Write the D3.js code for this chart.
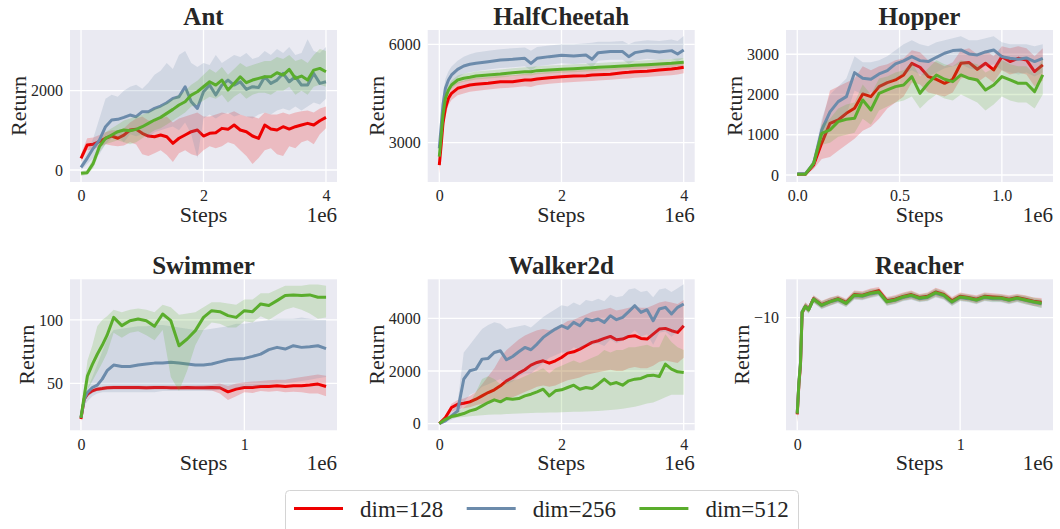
<!DOCTYPE html>
<html>
<head>
<meta charset="utf-8">
<script src="https://cdn.jsdelivr.net/npm/d3@7"></script>
<style>
  body { margin: 0; background: #ffffff; }
  svg { display: block; font-family: "Liberation Serif", "Times New Roman", serif; }
</style>
</head>
<body>
<div id="chart"></div>
<script>
// ---------- data (steps in units of 1e6) ----------
const seriesNames = ["dim=128", "dim=256", "dim=512"];
const seriesColors = ["#ee0000", "#6c8bab", "#5aad2c"];

// Ant
const antSteps = [0, 0.1, 0.2, 0.3, 0.4, 0.5, 0.6, 0.7, 0.8, 0.9, 1.0, 1.1, 1.2, 1.3, 1.4, 1.5, 1.6, 1.7, 1.8, 1.9, 2.0, 2.1, 2.2, 2.3, 2.4, 2.5, 2.6, 2.7, 2.8, 2.9, 3.0, 3.1, 3.2, 3.3, 3.4, 3.5, 3.6, 3.7, 3.8, 3.9, 4.0];
const antRed = [294, 630, 650, 714, 800, 857, 800, 880, 1008, 1025, 924, 857, 840, 882, 840, 672, 800, 882, 966, 1008, 857, 924, 940, 1050, 1025, 1134, 1008, 966, 857, 798, 1134, 1033, 1008, 1092, 1033, 1092, 1134, 1176, 1134, 1243, 1327];
const antRedLo = [200, 500, 520, 580, 650, 620, 600, 620, 700, 640, 400, 350, 420, 500, 380, 200, 420, 500, 400, 350, 500, 600, 550, 600, 700, 650, 500, 350, 150, 300, 500, 550, 400, 350, 600, 550, 700, 750, 650, 900, 1050];
const antRedHi = [400, 800, 820, 880, 950, 1000, 1000, 1050, 1200, 1300, 1350, 1250, 1250, 1300, 1350, 1200, 1300, 1350, 1400, 1450, 1350, 1350, 1400, 1450, 1420, 1480, 1400, 1350, 1350, 1300, 1450, 1400, 1400, 1450, 1400, 1450, 1480, 1500, 1450, 1550, 1600];
const antBlue = [67, 294, 546, 756, 1092, 1260, 1277, 1327, 1386, 1344, 1470, 1470, 1554, 1613, 1697, 1806, 1848, 2100, 1722, 1554, 1974, 2142, 1890, 2142, 2268, 2142, 2226, 2033, 2100, 2083, 2352, 2184, 2268, 2436, 2226, 2352, 2142, 2142, 2436, 2184, 2226];
const antBlueLo = [0, 150, 300, 400, 650, 800, 850, 700, 900, 850, 900, 800, 950, 1000, 1050, 1100, 1000, 1200, 900, 300, 1300, 1400, 1300, 1400, 1450, 1350, 1400, 1350, 1300, 1400, 1450, 1400, 1500, 1550, 1500, 1600, 1500, 1600, 1700, 1650, 1800];
const antBlueHi = [150, 450, 800, 1300, 1800, 1900, 1850, 2000, 2100, 2150, 2050, 2200, 2400, 2500, 2700, 2550, 2900, 3000, 2700, 2600, 2700, 2650, 2900, 2700, 2800, 2900, 2850, 2950, 2800, 2850, 3000, 2900, 3050, 2950, 3100, 2900, 2950, 3300, 3000, 2950, 3100];
const antGreen = [-84, -67, 168, 588, 798, 882, 966, 1008, 991, 1025, 1092, 1176, 1260, 1327, 1428, 1529, 1638, 1722, 1890, 1974, 2100, 2226, 2142, 2268, 2016, 2184, 2352, 2201, 2268, 2310, 2352, 2352, 2453, 2394, 2537, 2310, 2369, 2268, 2520, 2562, 2478];
const antGreenLo = [-150, -120, 50, 450, 650, 700, 750, 700, 650, 700, 800, 900, 1000, 1050, 1150, 1250, 1350, 1450, 1600, 1650, 1750, 1850, 1800, 1900, 1700, 1850, 1950, 1800, 1900, 1950, 1950, 1900, 2000, 2000, 2100, 1900, 2000, 1900, 2100, 2150, 2100];
const antGreenHi = [-30, 0, 300, 700, 950, 1050, 1150, 1250, 1300, 1350, 1400, 1450, 1550, 1600, 1700, 1800, 1900, 2000, 2150, 2250, 2400, 2550, 2450, 2600, 2400, 2550, 2700, 2600, 2650, 2700, 2750, 2750, 2850, 2800, 2900, 2750, 2800, 2700, 2900, 3050, 3000];

// HalfCheetah
const hcSteps = [0, 0.03, 0.06, 0.1, 0.15, 0.2, 0.3, 0.4, 0.5, 0.6, 0.8, 1.0, 1.2, 1.4, 1.5, 1.6, 1.8, 2.0, 2.2, 2.4, 2.5, 2.6, 2.8, 3.0, 3.1, 3.2, 3.4, 3.6, 3.8, 3.9, 4.0];
const hcRed = [2319, 2929, 3590, 4048, 4353, 4505, 4658, 4709, 4759, 4780, 4810, 4861, 4861, 4912, 4912, 4942, 4983, 5014, 5034, 5044, 5065, 5075, 5085, 5136, 5146, 5166, 5176, 5217, 5248, 5268, 5298];
const hcRedLo = [2050, 2650, 3300, 3800, 4150, 4300, 4450, 4500, 4550, 4580, 4620, 4660, 4680, 4720, 4700, 4750, 4800, 4830, 4850, 4870, 4880, 4900, 4920, 4950, 4960, 4980, 5000, 5030, 5060, 5080, 5120];
const hcRedHi = [2550, 3200, 3850, 4280, 4550, 4700, 4850, 4900, 4950, 4980, 5000, 5050, 5060, 5100, 5110, 5130, 5160, 5190, 5210, 5220, 5240, 5250, 5260, 5300, 5310, 5330, 5340, 5380, 5400, 5430, 5450];
const hcBlue = [2827, 3488, 4149, 4658, 4912, 5065, 5237, 5339, 5390, 5420, 5471, 5522, 5543, 5573, 5420, 5573, 5624, 5665, 5644, 5675, 5543, 5746, 5777, 5777, 5624, 5746, 5807, 5767, 5807, 5705, 5828];
const hcBlueLo = [2600, 3200, 3850, 4400, 4650, 4800, 4980, 5100, 5150, 5180, 5230, 5280, 5300, 5330, 5200, 5330, 5380, 5420, 5400, 5430, 5300, 5500, 5530, 5530, 5400, 5500, 5560, 5520, 5560, 5480, 5580];
const hcBlueHi = [3000, 3750, 4450, 4950, 5180, 5320, 5500, 5620, 5700, 5750, 5800, 5850, 5880, 5900, 5800, 5920, 5960, 6000, 6000, 6030, 6050, 6080, 6080, 6100, 6000, 6080, 6120, 6100, 6150, 6100, 6250];
const hcGreen = [2573, 3183, 3844, 4353, 4607, 4759, 4912, 4963, 4993, 5034, 5065, 5095, 5136, 5166, 5166, 5197, 5217, 5237, 5258, 5278, 5288, 5298, 5319, 5339, 5349, 5359, 5380, 5400, 5420, 5441, 5451];
const hcGreenLo = [2450, 3050, 3700, 4230, 4490, 4650, 4800, 4860, 4890, 4930, 4960, 4990, 5030, 5060, 5050, 5090, 5110, 5130, 5150, 5170, 5180, 5190, 5210, 5230, 5240, 5250, 5270, 5290, 5310, 5330, 5340];
const hcGreenHi = [2700, 3330, 4000, 4500, 4750, 4900, 5050, 5100, 5130, 5170, 5200, 5230, 5270, 5300, 5310, 5330, 5350, 5370, 5390, 5410, 5420, 5430, 5450, 5470, 5480, 5490, 5510, 5530, 5550, 5570, 5580];

// Hopper
const hopSteps = [0, 0.04, 0.08, 0.12, 0.16, 0.2, 0.24, 0.28, 0.32, 0.36, 0.4, 0.44, 0.48, 0.52, 0.56, 0.6, 0.64, 0.68, 0.72, 0.76, 0.8, 0.84, 0.88, 0.92, 0.96, 1.0, 1.04, 1.08, 1.12, 1.16, 1.2];
const hopRed = [20, 20, 250, 800, 1285, 1367, 1533, 1657, 2014, 1947, 2196, 2295, 2362, 2486, 2776, 2677, 2445, 2378, 2279, 2378, 2776, 2793, 2627, 2776, 2610, 2942, 2818, 2900, 2859, 2569, 2735];
const hopRedLo = [0, 0, 150, 400, 450, 600, 750, 900, 1100, 1200, 1400, 1650, 1800, 1950, 2300, 2250, 2050, 2000, 1950, 2050, 2400, 2450, 2300, 2450, 2300, 2600, 2500, 2550, 2500, 2200, 2350];
const hopRedHi = [40, 40, 350, 1300, 2100, 2200, 2300, 2400, 2700, 2600, 2700, 2750, 2850, 2900, 3100, 3050, 2850, 2800, 2700, 2800, 3100, 3150, 3000, 3100, 2950, 3200, 3150, 3200, 3150, 2950, 3150];
const hopBlue = [30, 30, 290, 1119, 1570, 1823, 1947, 2544, 2403, 2378, 2511, 2594, 2760, 2834, 2942, 2842, 2818, 2925, 3025, 3091, 3108, 3008, 2983, 3058, 3108, 2942, 2900, 2876, 2909, 2818, 2900];
const hopBlueLo = [0, 0, 200, 800, 1100, 1300, 1500, 2100, 2000, 2050, 2150, 2250, 2400, 2500, 2600, 2500, 2450, 2550, 2650, 2700, 2750, 2650, 2600, 2700, 2750, 2600, 2550, 2500, 2550, 2450, 2550];
const hopBlueHi = [60, 60, 400, 1400, 2000, 2200, 2400, 2950, 2800, 2800, 2850, 2950, 3100, 3250, 3350, 3250, 3200, 3300, 3350, 3400, 3450, 3350, 3350, 3400, 3450, 3300, 3250, 3250, 3250, 3200, 3250];
const hopGreen = [20, 20, 290, 1036, 1119, 1326, 1384, 1409, 1865, 1616, 2030, 2113, 2196, 2237, 2445, 2030, 2279, 2486, 2378, 2320, 2486, 2403, 2362, 2113, 2237, 2445, 2362, 2279, 2279, 2072, 2486];
const hopGreenLo = [0, 0, 200, 750, 800, 950, 1000, 1050, 1400, 1250, 1600, 1700, 1800, 1850, 1950, 1650, 1850, 2000, 1900, 1850, 2000, 1900, 1800, 1600, 1750, 1950, 1850, 1800, 1800, 1650, 2000];
const hopGreenHi = [40, 40, 380, 1250, 1400, 1650, 1750, 1800, 2250, 2000, 2400, 2450, 2550, 2600, 2800, 2450, 2650, 2850, 2750, 2700, 2850, 2800, 2750, 2550, 2650, 2850, 2750, 2700, 2700, 2500, 2900];

// Swimmer
const swSteps = [0, 0.02, 0.04, 0.07, 0.1, 0.13, 0.16, 0.2, 0.25, 0.3, 0.35, 0.4, 0.45, 0.5, 0.55, 0.6, 0.65, 0.7, 0.75, 0.8, 0.85, 0.9, 0.95, 1.0, 1.05, 1.1, 1.15, 1.2, 1.25, 1.3, 1.35, 1.4, 1.45, 1.5];
const swRed = [22, 37.6, 41.6, 44.2, 45.5, 46, 46.6, 46.8, 46.8, 46.9, 46.8, 46.6, 46.8, 46.9, 46.7, 46.6, 46.8, 46.7, 46.6, 46.8, 46.6, 43.4, 45.5, 46.8, 46.8, 47.6, 47.6, 48.2, 47.6, 48.2, 48.2, 48.7, 49.5, 47.6];
const swRedLo = [20, 35, 39.5, 42.5, 44, 44.5, 45, 45.2, 45.3, 45.3, 45.2, 45, 45.2, 45.3, 45.1, 45, 45.2, 45, 44.8, 44.5, 42, 37, 40, 43, 42.5, 44, 43.5, 44, 43, 43.5, 43, 42, 42, 40];
const swRedHi = [24, 40, 43.5, 46, 47, 47.5, 48, 48.3, 48.3, 48.4, 48.3, 48.2, 48.3, 48.4, 48.3, 48.2, 48.4, 48.4, 48.5, 49, 50, 48, 50, 51, 51.5, 52, 52.5, 53, 53, 54, 55, 56, 57, 56];
const swBlue = [23, 37.6, 42.9, 46.8, 48.7, 53.4, 60, 64.5, 63.4, 63.4, 64.5, 65.3, 66, 66, 66.6, 66, 65.3, 64.5, 64.5, 65.3, 67, 68.7, 69.2, 69.7, 71.3, 73.1, 76.6, 78.4, 77.1, 79.7, 78.4, 78.9, 79.7, 77.4];
const swBlueLo = [21, 32, 36, 40, 42, 43, 43, 43, 43, 43, 43, 43, 43, 44, 44, 44, 44, 44, 44, 44, 45, 45, 46, 47, 47, 48, 49, 50, 50, 51, 52, 53, 54, 55];
const swBlueHi = [25, 40, 46, 55, 65, 75, 85, 92, 93, 94, 95, 95, 96, 96, 95, 94, 93, 92, 92, 93, 94, 95, 97, 97, 98, 99, 100, 101, 101, 101, 102, 101, 100, 100];
const swGreen = [23, 40, 56, 65, 73, 80, 88, 102, 95.5, 99.4, 100.7, 99.4, 95, 104.7, 99.4, 79.7, 85, 91.6, 102, 107.3, 106.5, 103.4, 102, 107.3, 106.5, 112.6, 111.3, 115.2, 119.2, 119.7, 119.2, 119.7, 117.9, 117.9];
const swGreenLo = [21, 33, 45, 52, 59, 66, 74, 90, 86, 90, 91, 88, 84, 92, 55, 44, 60, 80, 92, 98, 97, 94, 94, 99, 98, 103, 100, 104, 108, 110, 108, 105, 101, 102];
const swGreenHi = [25, 48, 68, 80, 95, 100, 103, 108, 106, 108, 109, 108, 106, 112, 110, 104, 105, 106, 110, 114, 114, 113, 112, 116, 116, 121, 121, 124, 127, 127, 127, 128, 128, 127];

// Walker2d
const wkSteps = [0, 0.1, 0.2, 0.3, 0.4, 0.5, 0.6, 0.7, 0.8, 0.9, 1.0, 1.1, 1.2, 1.3, 1.4, 1.5, 1.6, 1.7, 1.8, 1.9, 2.0, 2.1, 2.2, 2.3, 2.4, 2.5, 2.6, 2.7, 2.8, 2.9, 3.0, 3.1, 3.2, 3.3, 3.4, 3.5, 3.6, 3.7, 3.8, 3.9, 4.0];
const wkRed = [0, 229, 610, 737, 775, 826, 927, 1054, 1181, 1283, 1435, 1626, 1753, 1918, 2045, 2223, 2324, 2388, 2299, 2388, 2515, 2680, 2731, 2832, 2959, 3086, 3150, 3239, 3315, 3188, 3213, 3315, 3340, 3239, 3213, 3404, 3594, 3620, 3531, 3467, 3721];
const wkRedLo = [0, 150, 450, 550, 580, 620, 700, 750, 800, 850, 900, 950, 1000, 1100, 1200, 1300, 1400, 1450, 1400, 1450, 1550, 1650, 1700, 1750, 1850, 1900, 1950, 2000, 2050, 2000, 2000, 2100, 2150, 2100, 2100, 2200, 2350, 2400, 2350, 2300, 2500];
const wkRedHi = [0, 300, 750, 900, 950, 1050, 1200, 1500, 1800, 2100, 2500, 2800, 3000, 3200, 3350, 3450, 3550, 3600, 3550, 3650, 3750, 3900, 3950, 4050, 4150, 4250, 4300, 4350, 4400, 4300, 4350, 4400, 4450, 4400, 4400, 4500, 4600, 4650, 4600, 4550, 4700];
const wkBlue = [0, 100, 292, 483, 1689, 2007, 2070, 2451, 2477, 2705, 2769, 2426, 2553, 2731, 2896, 2807, 3023, 3277, 3442, 3594, 3721, 3620, 3848, 3721, 3975, 3912, 3975, 3848, 4102, 3950, 4039, 4255, 4483, 4229, 4331, 3912, 4356, 4420, 4166, 4420, 4547];
const wkBlueLo = [0, 50, 150, 250, 800, 1100, 1200, 1400, 1500, 1600, 1700, 1500, 1600, 1800, 1900, 1900, 2100, 2300, 2500, 2600, 2700, 2700, 2900, 2800, 3000, 3000, 3050, 2950, 3200, 3050, 3150, 3350, 3550, 3300, 3400, 3000, 3450, 3500, 3300, 3500, 3650];
const wkBlueHi = [0, 150, 450, 800, 2700, 3000, 3300, 3600, 3750, 3850, 3800, 3600, 3650, 3700, 3750, 3650, 3850, 4050, 4200, 4350, 4500, 4450, 4600, 4500, 4700, 4650, 4750, 4650, 4900, 4800, 4850, 5100, 5150, 5000, 5050, 4800, 5100, 5150, 5000, 5150, 5300];
const wkGreen = [0, 165, 267, 318, 381, 483, 546, 673, 800, 902, 826, 953, 927, 953, 1054, 1118, 1207, 1308, 1054, 1245, 1283, 1372, 1461, 1308, 1372, 1334, 1499, 1689, 1499, 1562, 1461, 1626, 1689, 1715, 1816, 1842, 1791, 2261, 2070, 1969, 1943];
const wkGreenLo = [0, 120, 200, 230, 250, 280, 300, 320, 340, 350, 350, 360, 370, 380, 390, 400, 410, 410, 420, 420, 430, 440, 450, 450, 460, 470, 480, 500, 520, 540, 560, 600, 640, 700, 760, 800, 900, 1000, 1100, 1100, 1100];
const wkGreenHi = [0, 220, 350, 450, 600, 800, 1200, 1700, 1800, 1700, 1500, 1600, 1650, 1700, 1800, 1900, 2000, 2100, 1900, 2100, 2200, 2300, 2400, 2300, 2400, 2500, 2600, 2800, 2700, 2800, 2800, 2900, 2900, 2950, 3000, 2900, 2900, 3400, 3100, 2900, 2800];

// Reacher
const reSteps = [0, 0.01, 0.02, 0.03, 0.05, 0.07, 0.1, 0.15, 0.2, 0.25, 0.3, 0.35, 0.4, 0.45, 0.5, 0.55, 0.6, 0.65, 0.7, 0.75, 0.8, 0.85, 0.9, 0.95, 1.0, 1.05, 1.1, 1.15, 1.2, 1.25, 1.3, 1.35, 1.4, 1.45, 1.5];
const reRed = [-160, -70, -40, -8.6, -7.0, -7.7, -5.5, -6.7, -6.0, -5.5, -6.2, -4.8, -4.9, -4.5, -4.2, -5.9, -5.6, -5.1, -4.8, -5.3, -5.1, -4.4, -4.8, -5.9, -5.1, -5.3, -5.6, -5.1, -5.2, -5.3, -5.6, -5.3, -5.6, -6.0, -6.2];
const reRedLo = [-205, -88, -50, -9.7, -7.9, -8.6, -6.2, -7.5, -6.8, -6.2, -7.0, -5.5, -5.6, -5.2, -4.8, -6.7, -6.4, -5.8, -5.5, -6.0, -5.8, -5.1, -5.5, -6.7, -5.8, -6.0, -6.4, -5.8, -5.9, -6.0, -6.4, -6.0, -6.4, -6.9, -7.1];
const reRedHi = [-128, -55, -31, -7.6, -6.2, -6.8, -4.9, -5.9, -5.3, -4.9, -5.5, -4.2, -4.3, -3.9, -3.7, -5.2, -4.9, -4.5, -4.2, -4.7, -4.5, -3.8, -4.2, -5.2, -4.5, -4.7, -4.9, -4.5, -4.6, -4.7, -4.9, -4.7, -4.9, -5.3, -5.4];
const reBlue = [-155, -66, -37, -8.3, -7.1, -7.8, -5.6, -6.9, -6.1, -5.7, -6.4, -5.0, -5.1, -4.7, -4.5, -6.1, -5.8, -5.3, -5.0, -5.5, -5.3, -4.6, -5.0, -6.2, -5.3, -5.5, -5.8, -5.3, -5.5, -5.5, -5.8, -5.5, -5.8, -6.2, -6.5];
const reBlueLo = [-198, -84, -47, -9.4, -8.0, -8.8, -6.3, -7.7, -6.9, -6.4, -7.2, -5.7, -5.8, -5.4, -5.1, -6.9, -6.6, -6.0, -5.7, -6.2, -6.0, -5.3, -5.7, -7.0, -6.0, -6.2, -6.6, -6.0, -6.2, -6.2, -6.6, -6.2, -6.6, -7.0, -7.4];
const reBlueHi = [-122, -52, -29, -7.3, -6.3, -6.9, -5.0, -6.1, -5.4, -5.1, -5.7, -4.4, -4.5, -4.1, -4.0, -5.4, -5.1, -4.7, -4.4, -4.9, -4.7, -4.0, -4.4, -5.5, -4.7, -4.9, -5.1, -4.7, -4.9, -4.9, -5.1, -4.9, -5.1, -5.5, -5.7];
const reGreen = [-157, -67, -38, -8.4, -7.1, -7.9, -5.6, -6.8, -6.1, -5.6, -6.4, -4.9, -5.0, -4.6, -4.4, -6.1, -5.75, -5.2, -4.9, -5.4, -5.2, -4.5, -4.9, -6.1, -5.2, -5.4, -5.75, -5.2, -5.4, -5.4, -5.75, -5.4, -5.75, -6.1, -6.4];
const reGreenLo = [-200, -85, -48, -9.5, -8.0, -8.8, -6.3, -7.6, -6.9, -6.3, -7.2, -5.6, -5.7, -5.3, -5.0, -6.9, -6.5, -5.9, -5.6, -6.1, -5.9, -5.2, -5.6, -6.9, -5.9, -6.1, -6.5, -5.9, -6.1, -6.1, -6.5, -6.1, -6.6, -7.0, -7.4];
const reGreenHi = [-125, -53, -30, -7.4, -6.3, -7.0, -5.0, -6.0, -5.4, -5.0, -5.7, -4.3, -4.4, -4.0, -3.9, -5.4, -5.1, -4.6, -4.3, -4.8, -4.6, -3.9, -4.3, -5.4, -4.6, -4.8, -5.1, -4.6, -4.8, -4.8, -5.1, -4.8, -5.0, -5.3, -5.6];

// tick values
const ticks4M = [0, 2, 4];
const ticksHopX = [0, 0.5, 1.0];
const ticks15M = [0, 1];
const antYTicks = [0, 2000];
const hcYTicks = [3000, 6000];
const hopYTicks = [0, 1000, 2000, 3000];
const swYTicks = [50, 100];
const wkYTicks = [0, 2000, 4000];
const reYTicks = [-10];

// ---------- layout ----------
const width = 1060, height = 529;
const colLeft = [70, 427.7, 786];
const rowTop = [30, 279.3];
const plotW = 267, plotH = [152, 151];
const textColor = "#262626";

const panels = [
  { title: "Ant", col: 0, row: 0, steps: antSteps, xDomain: [-0.18, 4.18], yDomain: [-303, 3531], xTicks: ticks4M, yTicks: antYTicks,
    series: [[antRed, antRedLo, antRedHi], [antBlue, antBlueLo, antBlueHi], [antGreen, antGreenLo, antGreenHi]] },
  { title: "HalfCheetah", col: 1, row: 0, steps: hcSteps, xDomain: [-0.19, 4.18], yDomain: [1802, 6436], xTicks: ticks4M, yTicks: hcYTicks,
    series: [[hcRed, hcRedLo, hcRedHi], [hcBlue, hcBlueLo, hcBlueHi], [hcGreen, hcGreenLo, hcGreenHi]] },
  { title: "Hopper", col: 2, row: 0, steps: hopSteps, xDomain: [-0.055, 1.25], yDomain: [-174, 3603], xTicks: ticksHopX, yTicks: hopYTicks, xFmt: d3.format(".1f"),
    series: [[hopRed, hopRedLo, hopRedHi], [hopBlue, hopBlueLo, hopBlueHi], [hopGreen, hopGreenLo, hopGreenHi]] },
  { title: "Swimmer", col: 0, row: 1, steps: swSteps, xDomain: [-0.067, 1.567], yDomain: [13.1, 132], xTicks: ticks15M, yTicks: swYTicks,
    series: [[swRed, swRedLo, swRedHi], [swBlue, swBlueLo, swBlueHi], [swGreen, swGreenLo, swGreenHi]] },
  { title: "Walker2d", col: 1, row: 1, steps: wkSteps, xDomain: [-0.19, 4.18], yDomain: [-255, 5486], xTicks: ticks4M, yTicks: wkYTicks,
    series: [[wkRed, wkRedLo, wkRedHi], [wkBlue, wkBlueLo, wkBlueHi], [wkGreen, wkGreenLo, wkGreenHi]] },
  { title: "Reacher", col: 2, row: 1, steps: reSteps, xDomain: [-0.069, 1.57], yDomain: [-250, -2.8], symlog: true, xTicks: ticks15M, yTicks: reYTicks,
    series: [[reRed, reRedLo, reRedHi], [reBlue, reBlueLo, reBlueHi], [reGreen, reGreenLo, reGreenHi]] }
];

const svg = d3.select("#chart").append("svg")
  .attr("width", width)
  .attr("height", height)
  .style("background-color", "#ffffff");

function drawPanel(p, idx) {
  const left = colLeft[p.col], top = rowTop[p.row], h = plotH[p.row];
  const g = svg.append("g").attr("transform", `translate(${left},${top})`);

  const x = d3.scaleLinear().domain(p.xDomain).range([0, plotW]);
  const y = (p.symlog ? d3.scaleSymlog().constant(1) : d3.scaleLinear())
    .domain(p.yDomain).range([h, 0]);

  g.append("rect").attr("width", plotW).attr("height", h).attr("fill", "#eaeaf2");

  // grid
  g.selectAll(".gx").data(p.xTicks).join("line")
    .attr("x1", d => x(d)).attr("x2", d => x(d)).attr("y1", 0).attr("y2", h)
    .attr("stroke", "#ffffff").attr("stroke-width", 1.3);
  g.selectAll(".gy").data(p.yTicks).join("line")
    .attr("x1", 0).attr("x2", plotW).attr("y1", d => y(d)).attr("y2", d => y(d))
    .attr("stroke", "#ffffff").attr("stroke-width", 1.3);

  const clipId = "clip" + idx;
  g.append("clipPath").attr("id", clipId)
    .append("rect").attr("width", plotW).attr("height", h);
  const plot = g.append("g").attr("clip-path", `url(#${clipId})`);

  const area = d3.area().x(d => x(d.t)).y0(d => y(d.lo)).y1(d => y(d.hi));
  const line = d3.line().x(d => x(d.t)).y(d => y(d.m));

  p.series.forEach((s, i) => {
    const rows = p.steps.map((t, k) => ({ t: t, m: s[0][k], lo: s[1][k], hi: s[2][k] }));
    plot.append("path").datum(rows)
      .attr("fill", seriesColors[i]).attr("fill-opacity", 0.2)
      .attr("d", area);
    plot.append("path").datum(rows)
      .attr("fill", "none").attr("stroke", seriesColors[i])
      .attr("stroke-width", 3).attr("stroke-linejoin", "round")
      .attr("d", line);
  });

  // axes
  const xAxis = g.append("g").attr("transform", `translate(0,${h})`)
    .call(d3.axisBottom(x).tickValues(p.xTicks).tickSize(0).tickPadding(8)
      .tickFormat(p.xFmt || (d => d)));
  const yAxis = g.append("g")
    .call(d3.axisLeft(y).tickValues(p.yTicks).tickSize(0).tickPadding(7)
      .tickFormat(d => String(d).replace("-", "\u2212")));
  [xAxis, yAxis].forEach(a => {
    a.select(".domain").remove();
    a.attr("font-family", null).attr("font-size", null);
    a.selectAll("text").attr("fill", textColor).style("font-size", "16px");
  });

  // labels
  g.append("text")
    .attr("x", plotW / 2).attr("y", -5.5)
    .attr("text-anchor", "middle")
    .attr("fill", textColor)
    .style("font-size", "25px").style("font-weight", "bold")
    .text(p.title);

  g.append("text")
    .attr("x", plotW / 2).attr("y", h + 40)
    .attr("text-anchor", "middle").attr("fill", textColor)
    .style("font-size", "22px")
    .text("Steps");

  g.append("text")
    .attr("x", plotW).attr("y", h + 40)
    .attr("text-anchor", "end").attr("fill", textColor)
    .style("font-size", "21px")
    .text("1e6");

  const yb = yAxis.node().getBBox();
  g.append("text")
    .attr("transform", `translate(${yb.x - 5},${h / 2}) rotate(-90)`)
    .attr("text-anchor", "middle").attr("fill", textColor)
    .style("font-size", "22px")
    .text("Return");
}

panels.forEach(drawPanel);

// ---------- legend ----------
const legend = svg.append("g");
legend.append("rect")
  .attr("x", 285.5).attr("y", 490.5).attr("width", 513).attr("height", 50).attr("rx", 4)
  .attr("fill", "#ffffff").attr("stroke", "#d4d4d4").attr("stroke-width", 1);

const items = legend.selectAll(".item").data(seriesNames).join("g")
  .attr("transform", (d, i) => `translate(${294 + i * 172.7},0)`);
items.append("line")
  .attr("x1", 0).attr("x2", 49).attr("y1", 508.5).attr("y2", 508.5)
  .attr("stroke", (d, i) => seriesColors[i]).attr("stroke-width", 3);
items.append("text")
  .attr("x", 66).attr("y", 517)
  .attr("fill", textColor)
  .style("font-size", "23px")
  .text(d => d);
</script>
</body>
</html>
